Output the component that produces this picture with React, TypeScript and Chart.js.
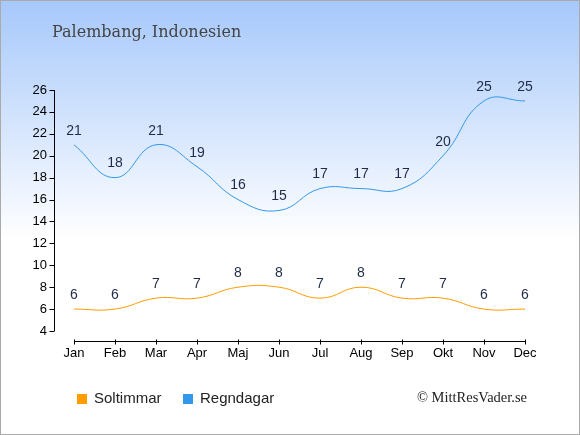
import React, { useEffect, useRef } from "react";
import { Chart, registerables } from "chart.js";

Chart.register(...registerables);

const months = ["Jan", "Feb", "Mar", "Apr", "Maj", "Jun", "Jul", "Aug", "Sep", "Okt", "Nov", "Dec"];
const sunHours = [6, 6, 7, 7, 8, 8, 7, 8, 7, 7, 6, 6];
const rainDays = [21, 18, 21, 19, 16, 15, 17, 17, 17, 20, 25, 25];
const yTicks = [4, 6, 8, 10, 12, 14, 16, 18, 20, 22, 24, 26];

const title = "Palembang, Indonesien";
const credit = "© MittResVader.se";
const sans = "'Liberation Sans', Arial, sans-serif";

const decorPlugin = {
  id: "decor",
  beforeDraw(chart: any) {
    const { ctx, width, height } = chart;
    ctx.save();
    const g = ctx.createLinearGradient(0, 0, 0, height);
    g.addColorStop(0, "#a6c8fb");
    g.addColorStop(0.55, "#ffffff");
    g.addColorStop(1, "#ffffff");
    ctx.fillStyle = g;
    ctx.fillRect(0, 0, width, height);
    ctx.strokeStyle = "#aaaaaa";
    ctx.lineWidth = 1;
    ctx.strokeRect(0.5, 0.5, width - 1, height - 1);

    ctx.fillStyle = "#444444";
    ctx.font = "16px 'DejaVu Serif', serif";
    ctx.textBaseline = "middle";
    ctx.fillText(title, 52, 33);
    ctx.restore();
  },
  afterDraw(chart: any) {
    const { ctx, chartArea } = chart;
    const x = chart.scales.x;
    const y = chart.scales.y;
    ctx.save();
    ctx.strokeStyle = "#000000";
    ctx.lineWidth = 1;

    // y axis
    const ax = Math.round(chartArea.left - 20) + 0.5;
    ctx.beginPath();
    ctx.moveTo(ax, y.getPixelForValue(26));
    ctx.lineTo(ax, y.getPixelForValue(4));
    yTicks.forEach((v) => {
      const py = Math.round(y.getPixelForValue(v)) + 0.5;
      ctx.moveTo(ax - 5, py);
      ctx.lineTo(ax, py);
    });
    ctx.stroke();

    // x axis
    const ay = Math.round(chartArea.bottom + 10) + 0.5;
    ctx.beginPath();
    ctx.moveTo(x.getPixelForValue(0), ay);
    ctx.lineTo(x.getPixelForValue(months.length - 1), ay);
    months.forEach((_, i) => {
      const px = Math.round(x.getPixelForValue(i)) + 0.5;
      ctx.moveTo(px, ay - 2);
      ctx.lineTo(px, ay + 3);
    });
    ctx.stroke();

    // value labels
    ctx.fillStyle = "#1f2b48";
    ctx.font = "14px " + sans;
    ctx.textAlign = "center";
    ctx.textBaseline = "middle";
    chart.data.datasets.forEach((ds: any, di: number) => {
      const meta = chart.getDatasetMeta(di);
      meta.data.forEach((pt: any, i: number) => {
        ctx.fillText(String(ds.data[i]), pt.x, pt.y - 14);
      });
    });

    // legend
    ctx.textAlign = "left";
    ctx.font = "15px " + sans;
    let lx = 77;
    chart.data.datasets.forEach((ds: any) => {
      ctx.fillStyle = ds.borderColor;
      ctx.fillRect(lx, 394, 10, 10);
      ctx.fillStyle = "#222222";
      ctx.fillText(ds.label, lx + 17, 399);
      lx += 106;
    });

    ctx.textAlign = "right";
    ctx.fillStyle = "#222222";
    ctx.font = "14.5px 'Liberation Serif', 'Times New Roman', serif";
    ctx.fillText(credit, 527, 398);
    ctx.restore();
  },
};

export default function App() {
  const canvasRef = useRef<HTMLCanvasElement>(null);

  useEffect(() => {
    document.body.style.margin = "0";
    let chart: Chart | null = null;
    if (canvasRef.current) {
      // @ts-ignore
      chart = new Chart(canvasRef.current, {
        type: "line",
        data: {
          labels: months,
          datasets: [
            {
              label: "Soltimmar",
              data: sunHours,
              borderColor: "#ff9c00",
              borderWidth: 1,
              pointRadius: 0,
              tension: 0.45,
              fill: false,
            },
            {
              label: "Regndagar",
              data: rainDays,
              borderColor: "#3398ea",
              borderWidth: 1,
              pointRadius: 0,
              tension: 0.45,
              fill: false,
            },
          ],
        },
        options: {
          animation: false,
          responsive: false,
          devicePixelRatio: 1,
          layout: { padding: { top: 90, bottom: 74, left: 0, right: 55 } },
          plugins: {
            legend: { display: false },
            title: { display: false },
            tooltip: { enabled: false },
          },
          scales: {
            x: {
              offset: false,
              grid: { display: false, drawTicks: false },
              border: { display: false },
              ticks: { color: "#000000", font: { size: 13, family: sans }, padding: 15, maxRotation: 0, autoSkip: false },
              afterFit(scale: any) {
                scale.height = 30;
              },
            },
            y: {
              min: 4,
              max: 26,
              grid: { display: false, drawTicks: false },
              border: { display: false },
              ticks: { stepSize: 2, color: "#000000", font: { size: 13, family: sans }, padding: 27 },
              afterFit(scale: any) {
                scale.width = 74;
              },
            },
          },
        },
        plugins: [decorPlugin],
      });
    }
    return () => {
      if (chart) chart.destroy();
    };
  }, []);

  return (
    <div style={{ width: 580, height: 435 }}>
      <canvas ref={canvasRef} width={580} height={435} />
    </div>
  );
}
